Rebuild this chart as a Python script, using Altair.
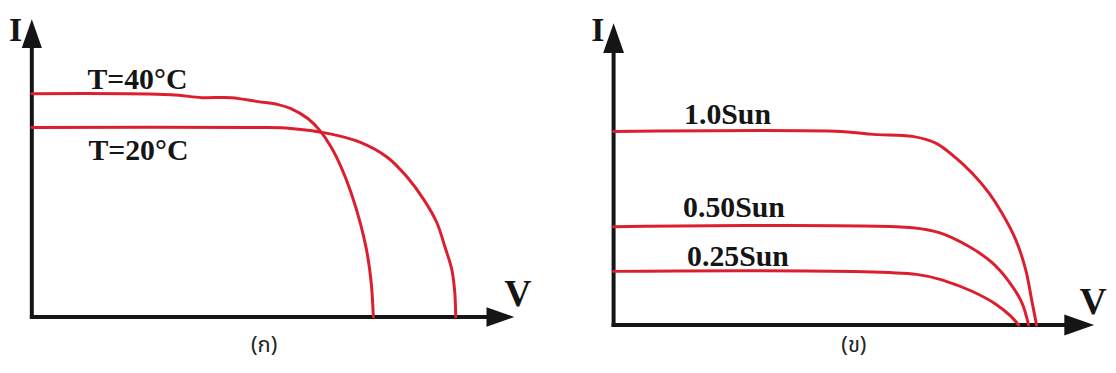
import altair as alt
import pandas as pd

# ---------------- data ----------------
# Panel (ก): I-V curves at two cell temperatures
temp_names = ["T=40°C", "T=20°C"]
v_t40 = [0, 1.40, 1.71, 2.01, 2.28, 2.48, 2.61, 2.78, 2.90, 3.01, 3.12, 3.22, 3.31, 3.38, 3.42, 3.44]
i_t40 = [2.25, 2.24, 2.21, 2.21, 2.17, 2.14, 2.10, 2.00, 1.88, 1.72, 1.50, 1.24, 0.94, 0.63, 0.33, 0.0]
v_t20 = [0, 2.28, 2.61, 2.98, 3.31, 3.58, 3.78, 3.95, 4.08, 4.16, 4.23, 4.26, 4.27]
i_t20 = [1.91, 1.91, 1.90, 1.85, 1.76, 1.61, 1.41, 1.18, 0.95, 0.71, 0.48, 0.25, 0.0]

# Panel (ข): I-V curves at three irradiance levels
sun_names = ["1.0Sun", "0.50Sun", "0.25Sun"]
v_s100 = [0, 2.29, 2.62, 3.01, 3.25, 3.45, 3.61, 3.78, 3.91, 4.05, 4.15, 4.21, 4.26]
i_s100 = [1.95, 1.95, 1.92, 1.90, 1.83, 1.68, 1.53, 1.33, 1.13, 0.86, 0.56, 0.26, 0.0]
v_s050 = [0, 3.01, 3.28, 3.58, 3.81, 3.98, 4.11, 4.18]
i_s050 = [0.99, 0.98, 0.93, 0.79, 0.63, 0.44, 0.23, 0.0]
v_s025 = [0, 3.05, 3.35, 3.61, 3.85, 4.00, 4.08]
i_s025 = [0.54, 0.51, 0.44, 0.34, 0.21, 0.09, 0.0]

captions = ["(ก)", "(ข)"]
axis_names = ["I", "V"]

# ---------------- styling / layout ----------------
RED = "#dc1f2e"
INK = "#151515"
W, H = 554, 357
SERIF = "Liberation Serif"
THAI = "Noto Sans Thai, Noto Sans Thai UI, Loma, Garuda, Noto Sans, DejaVu Sans, sans-serif"


def curves_df(names, vs, is_):
    rows = []
    for name, v, i in zip(names, vs, is_):
        for k, (a, b) in enumerate(zip(v, i)):
            rows.append({"series": name, "V": a, "I": b, "k": k})
    return pd.DataFrame(rows)


def panel(curves, labels, xdom, ydom, axis_len, arrow_pos, arrow_size,
          letter_pos, caption_pos, caption):
    xs = alt.Scale(domain=xdom, nice=False, zero=False)
    ys = alt.Scale(domain=ydom, nice=False, zero=False)

    def XX(f="V"):
        return alt.X(f, type="quantitative", scale=xs, axis=None)

    def YY(f="I"):
        return alt.Y(f, type="quantitative", scale=ys, axis=None)

    base = alt.Chart(pd.DataFrame({"V": [0.0], "I": [0.0],
                                   "V2": [axis_len[0]], "I2": [axis_len[1]]}))
    y_axis = base.mark_rule(color=INK, strokeWidth=4, strokeCap="square").encode(
        x=XX(), y=YY(), y2="I2:Q")
    x_axis = base.mark_rule(color=INK, strokeWidth=4, strokeCap="square").encode(
        x=XX(), x2="V2:Q", y=YY())

    up = alt.Chart(pd.DataFrame({"V": [0.0], "I": [arrow_pos[1]]})).mark_point(
        shape="M0,-1L0.7,1L-0.7,1Z", size=arrow_size[1], filled=True,
        color=INK, opacity=1, strokeWidth=0).encode(x=XX(), y=YY())
    right = alt.Chart(pd.DataFrame({"V": [arrow_pos[0]], "I": [0.0]})).mark_point(
        shape="M1,0L-1,-0.7L-1,0.7Z", size=arrow_size[0], filled=True,
        color=INK, opacity=1, strokeWidth=0).encode(x=XX(), y=YY())

    lines = alt.Chart(curves).mark_line(
        color=RED, strokeWidth=3, interpolate="catmull-rom", strokeCap="round").encode(
        x=XX(), y=YY(), detail="series:N", order="k:Q")

    lab = alt.Chart(labels).mark_text(
        font=SERIF, fontWeight="bold", fontSize=30, align="left",
        baseline="alphabetic", color=INK).encode(x=XX(), y=YY(), text="text:N")

    letters = alt.Chart(pd.DataFrame({
        "V": [letter_pos[0][0], letter_pos[1][0]],
        "I": [letter_pos[0][1], letter_pos[1][1]],
        "text": axis_names,
        "fs": [34, 38],
    })).mark_text(font=SERIF, fontWeight="bold", align="center",
                  baseline="alphabetic", color=INK, clip=True).encode(
        x=XX(), y=YY(), text="text:N", size=alt.Size("fs:Q", scale=None, legend=None))

    cap = alt.Chart(pd.DataFrame({"V": [caption_pos[0]], "I": [caption_pos[1]],
                                  "text": [caption]})).mark_text(
        font=THAI, fontSize=22, align="center", baseline="alphabetic",
        color="#222222").encode(x=XX(), y=YY(), text="text:N")

    return alt.layer(y_axis, x_axis, up, right, lines, lab, letters, cap).properties(
        width=W, height=H)


left_curves = curves_df(temp_names, [v_t40, v_t20], [i_t40, i_t20])
left_labels = pd.DataFrame({"text": temp_names, "V": [0.56, 0.57], "I": [2.30, 1.58]})

right_curves = curves_df(sun_names, [v_s100, v_s050, v_s025], [i_s100, i_s050, i_s025])
right_labels = pd.DataFrame({"text": sun_names, "V": [0.71, 0.70, 0.74],
                             "I": [2.02, 1.09, 0.59]})

left = panel(left_curves, left_labels,
             xdom=[-0.24, 5.30], ydom=[-0.47, 3.10],
             axis_len=(4.62, 2.75), arrow_pos=(4.72, 2.855), arrow_size=(784, 841),
             letter_pos=[(-0.165, 2.78), (4.895, 0.11)],
             caption_pos=(2.34, -0.355), caption=captions[0])

right = panel(right_curves, right_labels,
              xdom=[-0.56, 4.98], ydom=[-0.39, 3.18],
              axis_len=(4.58, 2.78), arrow_pos=(4.69, 2.89), arrow_size=(900, 900),
              letter_pos=[(-0.16, 2.86), (4.83, 0.11)],
              caption_pos=(2.42, -0.275), caption=captions[1])

chart = alt.hconcat(left, right, spacing=0).properties(padding=0).configure_view(
    stroke=None)

chart.save("out.html", embed_options={"renderer": "svg", "actions": False})
